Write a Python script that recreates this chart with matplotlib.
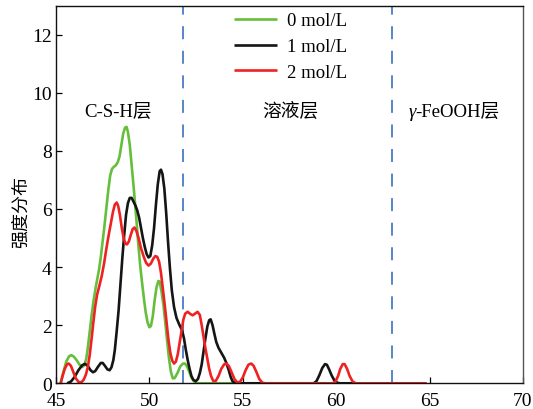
import matplotlib
matplotlib.use("Agg")
import matplotlib.pyplot as plt

plt.rcParams['font.family'] = ['Liberation Serif', 'Noto Sans CJK SC', 'DejaVu Sans']

# ---------------- data ----------------
labels = ['0 mol/L', '1 mol/L', '2 mol/L']

x0 = [45.25, 45.4, 45.55, 45.7, 45.82, 45.95, 46.1, 46.25, 46.4, 46.52, 46.62, 46.7, 46.8, 46.9,
      47.0, 47.14, 47.3, 47.4, 47.5, 47.6, 47.7, 47.8, 47.9, 48.0, 48.1, 48.2, 48.3, 48.4, 48.5,
      48.6, 48.7, 48.78, 48.85, 48.95, 49.05, 49.15, 49.23, 49.32, 49.41, 49.5, 49.6, 49.7, 49.8,
      49.9, 50.0, 50.08, 50.18, 50.28, 50.38, 50.48, 50.55, 50.65, 50.75, 50.85, 50.95, 51.05,
      51.15, 51.25, 51.35, 51.5, 51.65, 51.8, 51.9, 52.0, 52.12, 52.25, 52.38, 52.5, 52.7, 60.0]
y0 = [0, 0.4, 0.75, 0.93, 0.97, 0.92, 0.8, 0.65, 0.56, 0.62, 0.85, 1.2, 1.75, 2.3,
      2.8, 3.35, 3.9, 4.35, 4.9, 5.45, 6.05, 6.65, 7.15, 7.38, 7.45, 7.5, 7.6, 7.8, 8.2,
      8.6, 8.8, 8.82, 8.65, 8.2, 7.5, 6.8, 6.2, 5.5, 4.75, 4.1, 3.5, 2.95, 2.45,
      2.1, 1.93, 1.97, 2.3, 2.85, 3.3, 3.52, 3.5, 3.15, 2.7, 2.1, 1.45, 0.85,
      0.4, 0.17, 0.18, 0.35, 0.58, 0.68, 0.68, 0.6, 0.42, 0.2, 0.07, 0.01, 0, 0]

x1 = [45.6, 45.8, 46.0, 46.2, 46.4, 46.55, 46.7, 46.85, 46.98, 47.1, 47.25, 47.4, 47.5, 47.62,
      47.75, 47.87, 47.97, 48.07, 48.15, 48.25, 48.35, 48.45, 48.55, 48.65, 48.75, 48.85, 48.95,
      49.05, 49.15, 49.25, 49.35, 49.45, 49.55, 49.65, 49.75, 49.85, 49.95, 50.05, 50.15, 50.25,
      50.35, 50.45, 50.55, 50.62, 50.7, 50.8, 50.9, 51.0, 51.1, 51.2, 51.32, 51.45, 51.6, 51.75,
      51.85, 51.95, 52.05, 52.15, 52.25, 52.35, 52.48, 52.6, 52.7, 52.8, 52.9, 53.0, 53.1, 53.2,
      53.28, 53.38, 53.48, 53.58, 53.7, 53.85, 54.0, 54.12, 54.25, 54.35, 54.45, 54.6, 58.8,
      58.95, 59.1, 59.25, 59.4, 59.5, 59.62, 59.75, 59.9, 60.05, 60.2, 61.0]
y1 = [0, 0.06, 0.22, 0.45, 0.62, 0.67, 0.6, 0.45, 0.38, 0.42, 0.57, 0.7, 0.7, 0.6,
      0.48, 0.45, 0.55, 0.8, 1.15, 1.8, 2.5, 3.4, 4.3, 5.1, 5.8, 6.2, 6.38,
      6.38, 6.25, 6.12, 5.95, 5.7, 5.35, 5.0, 4.7, 4.45, 4.33, 4.38, 4.75, 5.35,
      6.15, 6.85, 7.3, 7.35, 7.2, 6.7, 5.85, 4.85, 3.95, 3.2, 2.62, 2.25, 2.02, 1.82,
      1.55, 1.15, 0.8, 0.5, 0.25, 0.12, 0.07, 0.15, 0.35, 0.65, 1.1, 1.55, 1.95, 2.17,
      2.2, 2.0, 1.7, 1.42, 1.22, 1.05, 0.88, 0.7, 0.45, 0.22, 0.07, 0, 0,
      0.08, 0.28, 0.52, 0.66, 0.64, 0.48, 0.28, 0.1, 0.02, 0, 0]

x2 = [45.25, 45.35, 45.47, 45.6, 45.68, 45.8, 45.92, 46.05, 46.2, 46.35, 46.48, 46.6, 46.7, 46.8,
      46.9, 47.0, 47.1, 47.2, 47.32, 47.45, 47.58, 47.7, 47.82, 47.95, 48.05, 48.15, 48.25, 48.33,
      48.42, 48.52, 48.62, 48.72, 48.8, 48.9, 49.0, 49.1, 49.2, 49.3, 49.42, 49.55, 49.7, 49.82,
      49.95, 50.08, 50.2, 50.32, 50.42, 50.52, 50.62, 50.72, 50.82, 50.92, 51.02, 51.12, 51.22,
      51.32, 51.42, 51.52, 51.62, 51.72, 51.82, 51.92, 52.05, 52.2, 52.32, 52.45, 52.58, 52.7,
      52.8, 52.9, 53.0, 53.1, 53.2, 53.3, 53.42, 53.55, 53.7, 53.85, 54.0, 54.12, 54.25, 54.4,
      54.55, 54.7, 54.85, 55.0, 55.15, 55.3, 55.45, 55.58, 55.72, 55.88, 56.05, 56.2, 59.8,
      59.95, 60.1, 60.22, 60.35, 60.45, 60.58, 60.72, 60.88, 61.05, 64.85]
y2 = [0, 0.25, 0.5, 0.66, 0.68, 0.6, 0.4, 0.18, 0.05, 0.03, 0.12, 0.3, 0.55, 0.95,
      1.5, 2.1, 2.65, 3.05, 3.35, 3.7, 4.15, 4.65, 5.1, 5.55, 5.9, 6.15, 6.22, 6.1,
      5.8, 5.35, 5.0, 4.8, 4.78, 4.88, 5.1, 5.3, 5.36, 5.25, 5.0, 4.65, 4.35, 4.15,
      4.05, 4.12, 4.28, 4.38, 4.35, 4.18, 3.8, 3.25, 2.7, 2.1, 1.5, 1.05, 0.78,
      0.68, 0.75, 1.0, 1.4, 1.8, 2.2, 2.4, 2.46, 2.38, 2.34, 2.4, 2.46, 2.35,
      2.0, 1.6, 1.2, 0.85, 0.5, 0.25, 0.08, 0.08, 0.25, 0.5, 0.65, 0.68, 0.6, 0.38,
      0.15, 0.03, 0.05, 0.2, 0.45, 0.64, 0.68, 0.6, 0.4, 0.15, 0.02, 0, 0,
      0.05, 0.25, 0.5, 0.66, 0.66, 0.5, 0.25, 0.06, 0, 0]

boundaries = [51.8, 63.0]
region_labels = ['C-S-H层', '溶液层', '-FeOOH层']
region_x = [48.32, 57.53, 64.25]
region_y = 9.36

xticks = [45, 50, 55, 60, 65, 70]
yticks = [0, 2, 4, 6, 8, 10, 12]

colors = ['#66BF3C', '#151515', '#EE2222']

# ---------------- figure ----------------
fig = plt.figure(figsize=(5.33, 4.10), dpi=100)
ax = fig.add_axes([56/533, 1 - 384.3/410, 467/533, 377.8/410])

for xs, ys, c, lab in zip([x0, x1, x2], [y0, y1, y2], colors, labels):
    ax.plot(xs, ys, color=c, lw=1.9, label=lab, solid_joinstyle='round', solid_capstyle='butt')

for b in boundaries:
    ax.axvline(b, color='#4A7CC4', lw=1.3, dashes=(7.2, 6.4), zorder=0.5)

ax.set_xlim(45, 70)
ax.set_ylim(0, 13)
ax.set_xticks(xticks)
ax.set_yticks(yticks)
ax.tick_params(direction='in', length=4, width=0.9, labelsize=14, pad=3,
               top=False, right=False)
ax.tick_params(axis='x', pad=6.5)
for s in ['left', 'bottom', 'top']:
    ax.spines[s].set_linewidth(1.0)
    ax.spines[s].set_color('#111111')
ax.spines['right'].set_linewidth(1.0)
ax.spines['right'].set_color('#555555')

ax.set_ylabel('强度分布', fontsize=13, va='center')
ax.yaxis.set_label_coords(-0.074, 0.456)

# region labels
ax.text(region_x[0], region_y, region_labels[0], fontsize=13.5, ha='center', va='center')
ax.text(region_x[1], region_y, region_labels[1], fontsize=13.5, ha='center', va='center')
t3 = ax.text(region_x[2], region_y, region_labels[2], fontsize=13.5, ha='left', va='center')
ax.annotate('γ', xy=(0, 0.5), xycoords=t3, fontsize=13.5, ha='right', va='center',
            style='italic')

ax.legend(loc='upper left', bbox_to_anchor=(234/533, 1 - 13/410),
          bbox_transform=fig.transFigure, frameon=False, fontsize=13.5,
          handlelength=2.3, handletextpad=0.55, labelspacing=0.47,
          borderpad=0, borderaxespad=0)

fig.savefig('out.png', dpi=100)
